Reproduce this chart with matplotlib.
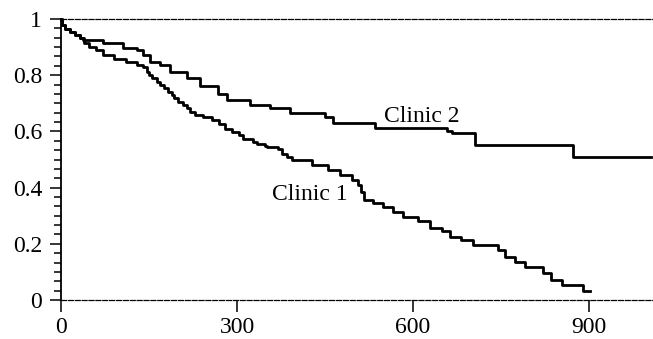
import matplotlib
matplotlib.use("Agg")
import matplotlib.pyplot as plt
from matplotlib.ticker import MultipleLocator, FixedLocator, FixedFormatter

# Kaplan-Meier step data: time at which each new survival level starts
CLINIC1_T = [0, 2, 7, 15, 24, 32, 40, 48, 60, 72, 90, 110, 130, 140, 147, 150, 155, 163,
             168, 175, 183, 190, 192, 200, 208, 215, 220, 228, 242, 257, 270, 280, 292,
             303, 311, 327, 334, 348, 351, 370, 376, 385, 394, 428, 455, 475, 496, 506,
             512, 516, 531, 549, 566, 583, 608, 629, 649, 663, 682, 702, 745, 757, 774,
             791, 822, 835, 854, 890, 902]
CLINIC1_S = [1.0, 0.979, 0.964, 0.953, 0.943, 0.932, 0.915, 0.90, 0.89, 0.872, 0.856, 0.847,
             0.836, 0.828, 0.812, 0.80, 0.789, 0.777, 0.765, 0.753, 0.741, 0.730, 0.718,
             0.706, 0.694, 0.682, 0.670, 0.658, 0.650, 0.640, 0.625, 0.61, 0.598, 0.587,
             0.572, 0.563, 0.555, 0.548, 0.543, 0.536, 0.52, 0.508, 0.497, 0.48, 0.463,
             0.445, 0.427, 0.409, 0.384, 0.356, 0.345, 0.331, 0.313, 0.295, 0.28, 0.255,
             0.244, 0.225, 0.214, 0.196, 0.178, 0.154, 0.136, 0.119, 0.096, 0.071, 0.053,
             0.032, 0.032]

CLINIC2_T = [0, 2, 7, 15, 24, 32, 37, 72, 106, 130, 140, 152, 169, 186, 215, 237, 268, 283,
             322, 356, 390, 450, 464, 535, 658, 666, 706, 873, 1005]
CLINIC2_S = [1.0, 0.979, 0.964, 0.953, 0.943, 0.932, 0.925, 0.914, 0.897, 0.89, 0.872, 0.847,
             0.836, 0.81, 0.79, 0.762, 0.733, 0.712, 0.694, 0.683, 0.666, 0.651, 0.630,
             0.612, 0.60, 0.594, 0.552, 0.509, 0.509]

X_TICKS = [0, 300, 600, 900]
Y_TICKS = [0, 0.2, 0.4, 0.6, 0.8, 1.0]
Y_TICK_LABELS = ["0", "0.2", "0.4", "0.6", "0.8", "1"]

FONT = ["Liberation Serif", "DejaVu Serif"]
FS = 17


def main():
    plt.rcParams["font.family"] = FONT
    fig = plt.figure(figsize=(6.53, 3.39), dpi=100)
    ax = fig.add_axes([61 / 653, 39 / 339, 592 / 653, 281 / 339])

    ax.step(CLINIC1_T, CLINIC1_S, where="post", color="black", lw=2.0, clip_on=False)
    ax.step(CLINIC2_T, CLINIC2_S, where="post", color="black", lw=2.0, clip_on=False)

    ax.text(359, 0.357, "Clinic 1", fontsize=FS, ha="left", va="baseline")
    ax.text(550, 0.633, "Clinic 2", fontsize=FS, ha="left", va="baseline")

    ax.set_xlim(0, 1009)
    ax.set_ylim(0, 1)

    # top/bottom frame lines are finely dashed, no right spine
    ax.spines["right"].set_visible(False)
    for side in ("top", "bottom"):
        ax.spines[side].set_linestyle((0, (4, 1.5)))
        ax.spines[side].set_linewidth(0.9)
    ax.spines["left"].set_linewidth(1.3)

    ax.xaxis.set_major_locator(FixedLocator(X_TICKS))
    ax.yaxis.set_major_locator(FixedLocator(Y_TICKS))
    ax.yaxis.set_major_formatter(FixedFormatter(Y_TICK_LABELS))
    ax.yaxis.set_minor_locator(MultipleLocator(0.2 / 6))

    ax.tick_params(axis="x", which="major", direction="out", length=8.5, width=1.1,
                   pad=4, labelsize=FS, top=False)
    ax.tick_params(axis="y", which="major", direction="out", length=8, width=1.1,
                   pad=5.5, labelsize=FS, right=False)
    ax.tick_params(axis="y", which="minor", direction="out", length=5, width=1.1, right=False)

    fig.savefig("out.png", dpi=100)
    plt.close(fig)


if __name__ == "__main__":
    main()
